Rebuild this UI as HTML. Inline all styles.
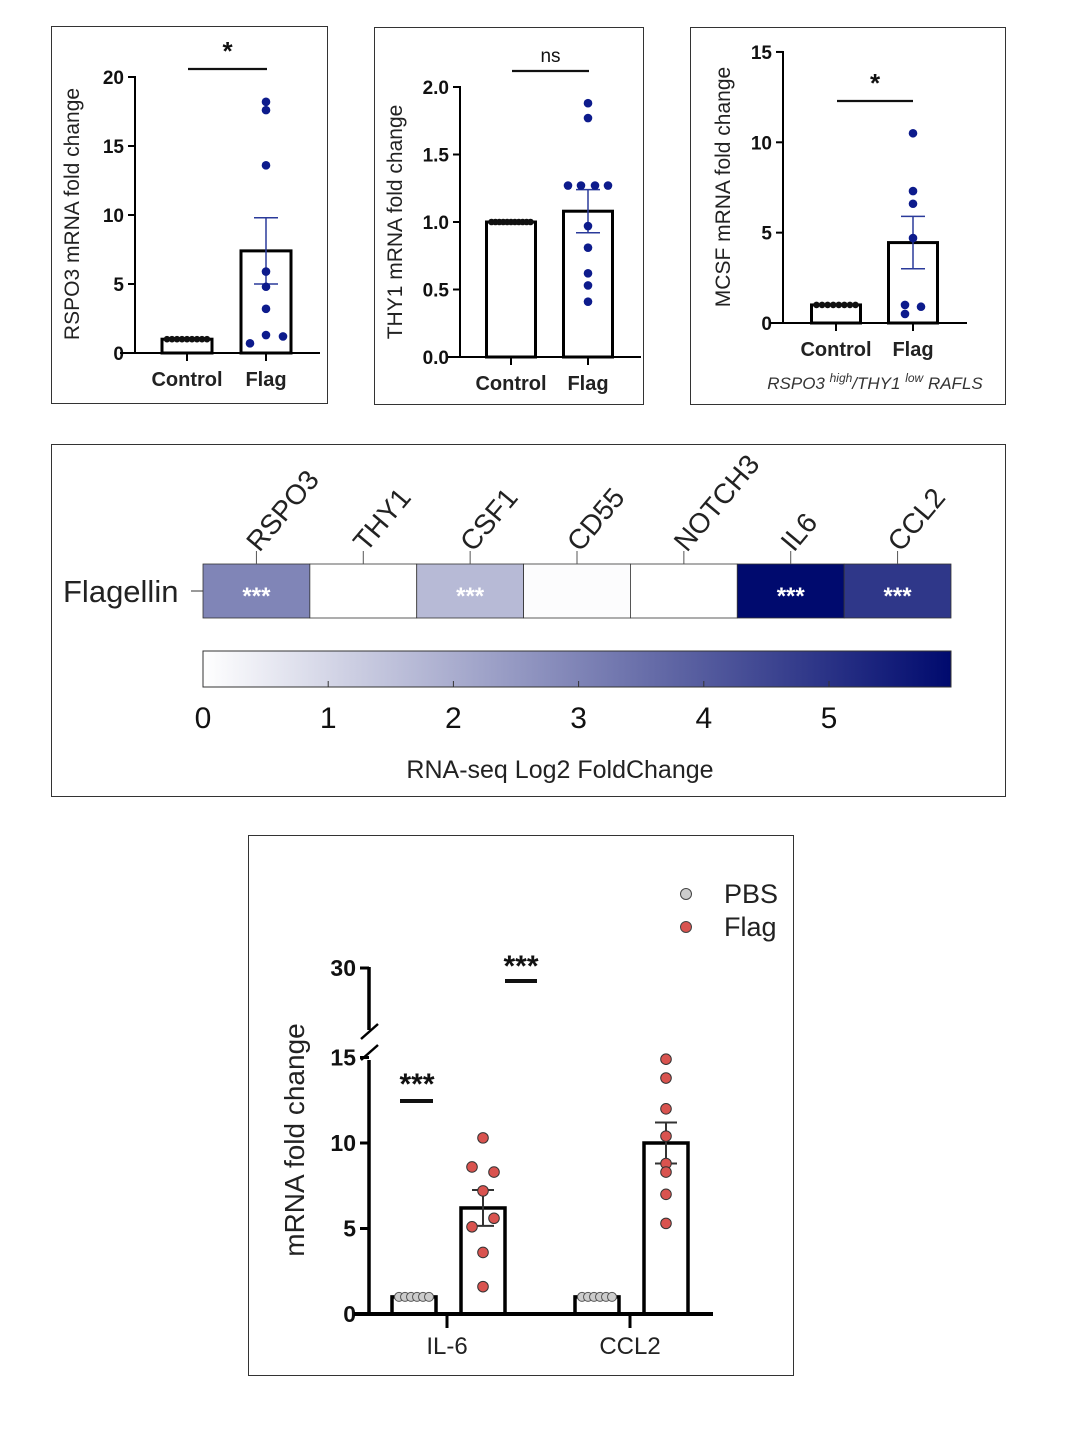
<!DOCTYPE html>
<html><head><meta charset="utf-8"><style>
html,body{margin:0;padding:0;background:#fff;}
svg{display:block;font-family:"Liberation Sans",Arial,sans-serif;}
</style></head><body>
<svg id="fig" width="1070" height="1440" viewBox="0 0 1070 1440" xmlns="http://www.w3.org/2000/svg">
<rect width="1070" height="1440" fill="#fff"/>
<rect x="51.5" y="26.5" width="276" height="377" fill="none" stroke="#333" stroke-width="1"/>
<rect x="374.5" y="27.5" width="269" height="377" fill="none" stroke="#333" stroke-width="1"/>
<rect x="690.5" y="27.5" width="315" height="377" fill="none" stroke="#333" stroke-width="1"/>
<rect x="51.5" y="444.5" width="954" height="352" fill="none" stroke="#333" stroke-width="1"/>
<rect x="248.5" y="835.5" width="545" height="540" fill="none" stroke="#333" stroke-width="1"/>
<g id="g1"></g><g id="g2"></g><g id="g3"></g><g id="g4"></g><g id="g5"></g>
</svg>
<script>
// ---------- data ----------
const p1Groups = ["Control","Flag"];
const p1Means = [1.0, 7.4];
const p1Sem = [0, 2.4];
const p1FlagPts = [18.2,17.6,13.6,5.9,4.8,3.2,1.3,1.2,0.7];
const p1Ticks = [0,5,10,15,20];

const p2Groups = ["Control","Flag"];
const p2Means = [1.0, 1.08];
const p2Sem = [0, 0.16];
const p2FlagPts = [1.88,1.77,1.27,1.27,1.27,1.27,0.97,0.81,0.62,0.53,0.41];
const p2Ticks = [0.0,0.5,1.0,1.5,2.0];
const p2TickLabels = ["0.0","0.5","1.0","1.5","2.0"];

const p3Groups = ["Control","Flag"];
const p3Means = [1.0, 4.45];
const p3Sem = [0, 1.45];
const p3FlagPts = [10.5,7.3,6.6,4.7,1.0,0.9,0.5];
const p3Ticks = [0,5,10,15];

const hmGenes = ["RSPO3","THY1","CSF1","CD55","NOTCH3","IL6","CCL2"];
const hmValues = [3.0,0.0,1.7,0.08,0.0,6.0,4.9];
const hmSig = ["***","","***","","","***","***"];
const cbTicks = [0,1,2,3,4,5];

const cyCats = ["IL-6","CCL2"];
const cyPbsMeans = [1.0,1.0];
const cyFlagMeans = [6.2,10.0];
const cyFlagSem = [1.05,1.2];
const cyFlagPts = [[10.3,8.6,8.3,7.2,5.6,5.1,3.6,1.6],[14.9,13.8,12.0,10.4,8.8,8.3,7.0,5.3]];
const cyTicks = [0,5,10,15];
const cyTopTick = [30];

// ---------- helpers ----------
const NS="http://www.w3.org/2000/svg";
function mk(parent,tag,attrs,text){const e=document.createElementNS(NS,tag);for(const k in attrs)e.setAttribute(k,attrs[k]);if(text!==undefined)e.textContent=text;parent.appendChild(e);return e;}
function line(p,x1,y1,x2,y2,w,c,name){const e=mk(p,"line",{x1,y1,x2,y2,stroke:c||"#000","stroke-width":w||2});

return e;}

function barPanel(g,o){
  const y=v=>o.y0-v*o.k;
  const bw=o.bw;
  line(g,o.ax,y(o.ticks[o.ticks.length-1])-1,o.ax,o.y0,2,"#000","y-axis");
  o.ticks.forEach((t,i)=>{line(g,o.ax-7,y(t),o.ax,y(t),2,"#000","y-tick");
    const tx=mk(g,"text",{x:o.ax-11,y:y(t)+7,"text-anchor":"end","font-size":o.fs,"font-weight":"bold",fill:"#111"},o.tickLabels?o.tickLabels[i]:t);
    
    });
  o.groups.forEach((gname,i)=>{
    const cx=o.cx[i];
    const r=mk(g,"rect",{x:cx-bw/2,y:y(o.means[i]),width:bw,height:o.y0-y(o.means[i]),fill:"#fff",stroke:"#000","stroke-width":3});
    
    
    line(g,cx,o.y0,cx,o.y0+8,2,"#000","x-tick");
    const t=mk(g,"text",{x:cx,y:o.y0+33,"text-anchor":"middle","font-size":20,"font-weight":"bold",fill:"#222"},gname);
    
    
  });
  const c0=o.cx[0];
  for(let j=0;j<o.nCtrl;j++){const d=mk(g,"circle",{cx:c0-bw/2+5+j*(bw-10)/(o.nCtrl-1),cy:y(1),r:3.3,fill:"#111"});
    
    }
  const c1=o.cx[1];
  line(g,c1,y(o.means[1]+o.sem[1]),c1,y(o.means[1]-o.sem[1]),1.5,"#2a3a9a","error-bar");
  line(g,c1-12,y(o.means[1]+o.sem[1]),c1+12,y(o.means[1]+o.sem[1]),1.5,"#2a3a9a","error-cap");
  line(g,c1-12,y(o.means[1]-o.sem[1]),c1+12,y(o.means[1]-o.sem[1]),1.5,"#2a3a9a","error-cap");
  o.pts.forEach((v,j)=>{const d=mk(g,"circle",{cx:c1+o.dx[j],cy:y(v),r:4.3,fill:"#0d1b8c"});
    
    });
  line(g,o.bx0,o.y0,o.bx1,o.y0,2,"#000","x-axis");
  line(g,o.sig[0],o.sig[2],o.sig[1],o.sig[2],2.2,"#111","significance-bar");
  const s=mk(g,"text",{x:(o.sig[0]+o.sig[1])/2,y:o.sig[2]-9,"text-anchor":"middle","font-size":o.sigText==="ns"?19:26,"font-weight":o.sigText==="ns"?"normal":"bold",fill:"#111"},o.sigText);
  
  
  const yt=mk(g,"text",{transform:`translate(${o.ytx},${o.yty}) rotate(-90)`,"text-anchor":"middle","font-size":21,fill:"#222"},o.ytitle);
  
  
}

barPanel(document.getElementById("g1"),{y0:353,k:13.8,ax:135,ticks:p1Ticks,fs:19,bw:50,cx:[187,266],groups:p1Groups,means:p1Means,sem:p1Sem,
  pts:p1FlagPts,dx:[0,0,0,0,0,0,0,17,-16],nCtrl:9,bx0:120,bx1:320,sig:[188,267,69],sigText:"*",ytitle:"RSPO3 mRNA fold change",ytx:79,yty:214});
barPanel(document.getElementById("g2"),{y0:357,k:135,ax:460,ticks:p2Ticks,tickLabels:p2TickLabels,fs:19,bw:49,cx:[511,588],groups:p2Groups,means:p2Means,sem:p2Sem,
  pts:p2FlagPts,dx:[0,0,-20,-7,7,20,0,0,0,0,0],nCtrl:11,bx0:448,bx1:641,sig:[512,589,71],sigText:"ns",ytitle:"THY1 mRNA fold change",ytx:402,yty:222});
barPanel(document.getElementById("g3"),{y0:323,k:18.07,ax:783,ticks:p3Ticks,fs:19,bw:49,cx:[836,913],groups:p3Groups,means:p3Means,sem:p3Sem,
  pts:p3FlagPts,dx:[0,0,0,0,-8,8,-8],nCtrl:8,bx0:770,bx1:967,sig:[837,913,101],sigText:"*",ytitle:"MCSF mRNA fold change",ytx:730,yty:187});
(function(){const g=document.getElementById("g3");
 const t=mk(g,"text",{x:875,y:389,"text-anchor":"middle","font-size":17,"font-style":"italic",fill:"#333"});
 
 
 t.innerHTML='RSPO3 <tspan dy="-7" font-size="12">high</tspan><tspan dy="7">/THY1 </tspan><tspan dy="-7" font-size="12">low</tspan><tspan dy="7"> RAFLS</tspan>';})();

// ---------- heatmap ----------
(function(){
 const g=document.getElementById("g4");
 const x0=203,x1=951,cw=(x1-x0)/hmGenes.length,yt=564,h=54;
 const vmax=6.0;
 const col=v=>{const f=Math.max(0,Math.min(1,v/vmax));const r=Math.round(255+(0-255)*f),gg=Math.round(255+(10-255)*f),b=Math.round(255+(110-255)*f);return `rgb(${r},${gg},${b})`;};
 const fl=mk(g,"text",{x:63,y:602,"font-size":31,fill:"#222"},"Flagellin");
 
 
 line(g,191,591,203,591,1,"#333","row-tick");
 hmGenes.forEach((gn,i)=>{
  const x=x0+i*cw;
  const r=mk(g,"rect",{x:x,y:yt,width:cw,height:h,fill:col(hmValues[i]),stroke:"#333","stroke-width":0.8});
  
  
  const cx=x+cw/2;
  line(g,cx,551,cx,yt,1,"#555","column-tick");
  const t=mk(g,"text",{transform:`translate(${cx+3},553) rotate(-50)`,"font-size":28,fill:"#222"},gn);
  
  
  if(hmSig[i]){const s=mk(g,"text",{x:cx,y:604,"text-anchor":"middle","font-size":24,"font-weight":"bold",fill:"#fff"},hmSig[i]);
   
   }
 });
 const defs=mk(g,"defs",{});
 const lg=mk(defs,"linearGradient",{id:"cb",x1:"0",x2:"1",y1:"0",y2:"0"});
 mk(lg,"stop",{offset:"0","stop-color":"#ffffff"});
 mk(lg,"stop",{offset:"1","stop-color":"#000a6e"});
 const k=125.2;
 const cb=mk(g,"rect",{x:x0,y:651,width:x1-x0,height:36,fill:"url(#cb)",stroke:"#333","stroke-width":1});
 
 
 cbTicks.forEach(t=>{const x=x0+t*k;
  line(g,x,681,x,687,1,"#333","colorbar-tick");
  const tx=mk(g,"text",{x:x,y:728,"text-anchor":"middle","font-size":30,fill:"#111"},t);
  
  });
 const ti=mk(g,"text",{x:560,y:778,"text-anchor":"middle","font-size":25,fill:"#222"},"RNA-seq Log2 FoldChange");
 
 
})();

// ---------- cytokine panel ----------
(function(){
 const g=document.getElementById("g5");
 const y0=1314,k=17.1,ax=369;
 const y=v=>y0-v*k;
 const yTop=v=>968+(30-v)*4;
 line(g,ax,y0+1,ax,1060,3.5,"#000","y-axis-lower");
 line(g,ax,1030,ax,967,3.5,"#000","y-axis-upper");
 line(g,361,1060,378,1045,2.5,"#000","axis-break");
 line(g,361,1039,378,1024,2.5,"#000","axis-break");
 cyTicks.forEach(t=>{line(g,ax-9,y(t),ax,y(t),3,"#000","y-tick");
  const tx=mk(g,"text",{x:ax-13,y:y(t)+8,"text-anchor":"end","font-size":23,"font-weight":"bold",fill:"#111"},t);
  
  });
 cyTopTick.forEach(t=>{line(g,ax-9,yTop(t),ax,yTop(t),3,"#000","y-tick");
  const tx=mk(g,"text",{x:ax-13,y:yTop(t)+8,"text-anchor":"end","font-size":23,"font-weight":"bold",fill:"#111"},t);
  
  });
 const catX=[447,630];
 cyCats.forEach((c,i)=>{
  const cx=catX[i];
  const pb=cx-33, fx=cx+36, bw=44;
  const r1=mk(g,"rect",{x:pb-bw/2,y:y(cyPbsMeans[i]),width:bw,height:y0-y(cyPbsMeans[i]),fill:"#fff",stroke:"#000","stroke-width":3.5});
  
  
  for(let j=0;j<6;j++){const d=mk(g,"circle",{cx:pb-15+j*6,cy:y(1),r:4.5,fill:"#ccc",stroke:"#555","stroke-width":1});
   
   }
  const r2=mk(g,"rect",{x:fx-bw/2,y:y(cyFlagMeans[i]),width:bw,height:y0-y(cyFlagMeans[i]),fill:"#fff",stroke:"#000","stroke-width":3.5});
  
  
  const m=cyFlagMeans[i],s=cyFlagSem[i];
  line(g,fx,y(m+s),fx,y(m-s),2,"#333","error-bar");
  line(g,fx-11,y(m+s),fx+11,y(m+s),2,"#333","error-cap");
  line(g,fx-11,y(m-s),fx+11,y(m-s),2,"#333","error-cap");
  const dxs=i===0?[0,-11,11,0,11,-11,0,0]:[0,0,0,0,0,0,0,0];
  cyFlagPts[i].forEach((v,j)=>{const d=mk(g,"circle",{cx:fx+dxs[j],cy:y(v),r:5.3,fill:"#d9534f",stroke:"#333","stroke-width":1});
   
   });
  line(g,cx,y0,cx,y0+14,3,"#000","x-tick");
  const t=mk(g,"text",{x:cx,y:1354,"text-anchor":"middle","font-size":24,fill:"#222"},c);
  
  
 });
 line(g,354,y0,713,y0,4,"#000","x-axis");
 line(g,400,1101,433,1101,4,"#111","significance-bar");
 const s1=mk(g,"text",{x:417,y:1094,"text-anchor":"middle","font-size":30,"font-weight":"bold",fill:"#111"},"***");
 
 
 line(g,505,981,537,981,4,"#111","significance-bar");
 const s2=mk(g,"text",{x:521,y:976,"text-anchor":"middle","font-size":30,"font-weight":"bold",fill:"#111"},"***");
 
 
 const yt=mk(g,"text",{transform:"translate(304,1140) rotate(-90)","text-anchor":"middle","font-size":28,fill:"#222"},"mRNA fold change");
 
 
 const l1=mk(g,"circle",{cx:686,cy:894,r:5.5,fill:"#ccc",stroke:"#444","stroke-width":1});
 
 
 const lt1=mk(g,"text",{x:724,y:903,"font-size":27,fill:"#222"},"PBS");
 
 
 const l2=mk(g,"circle",{cx:686,cy:927,r:5.5,fill:"#d9534f",stroke:"#444","stroke-width":1});
 
 
 const lt2=mk(g,"text",{x:724,y:936,"font-size":27,fill:"#222"},"Flag");
 
 
})();
</script>
</body></html>
